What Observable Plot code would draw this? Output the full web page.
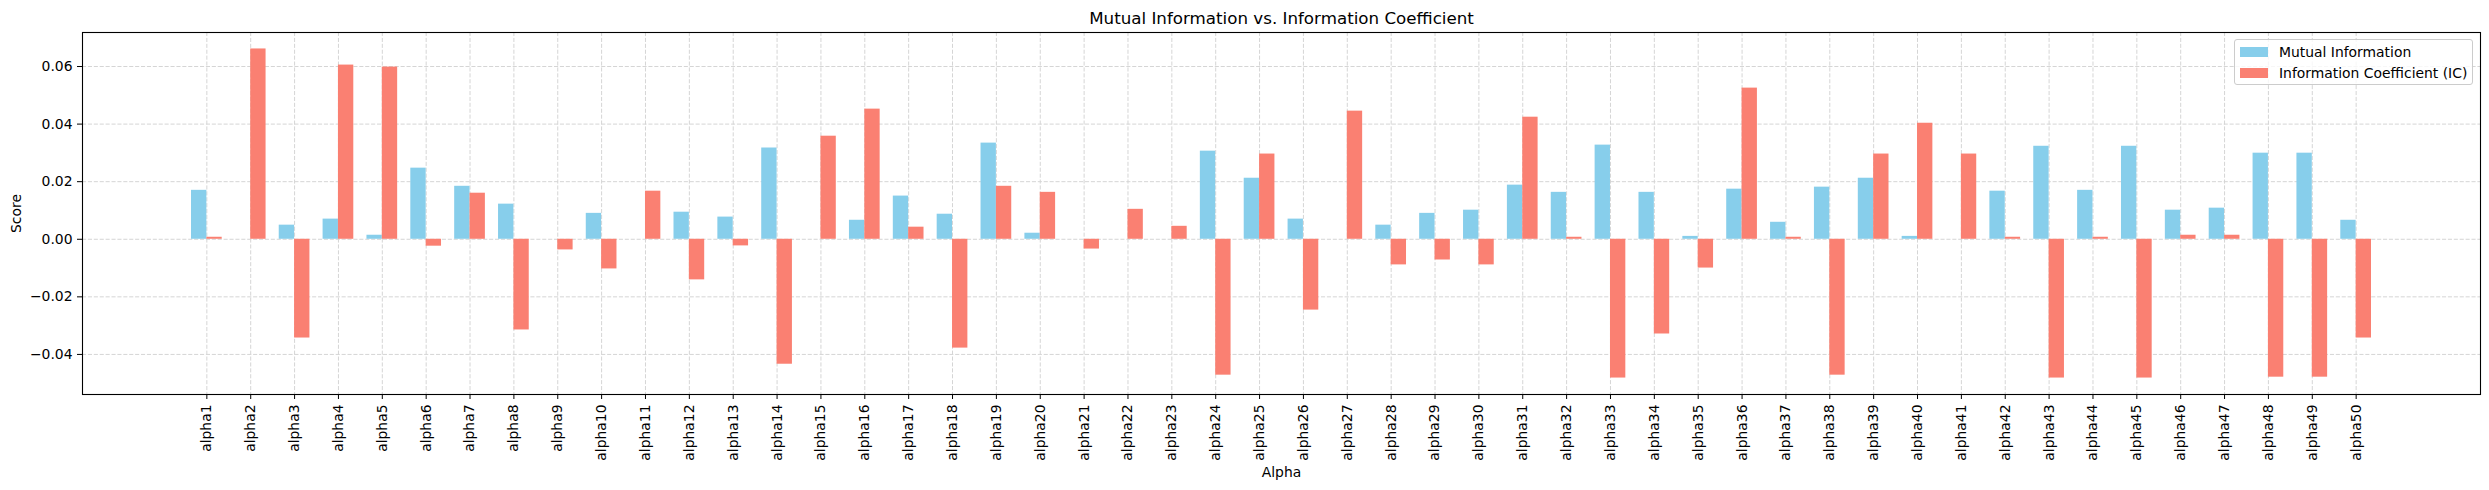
<!DOCTYPE html>
<html>
<head>
<meta charset="utf-8">
<script src="https://cdn.jsdelivr.net/npm/d3@7"></script>
<script src="https://cdn.jsdelivr.net/npm/@observablehq/plot@0.6"></script>
<style>
  body { margin: 0; background: #fff; font-family: "DejaVu Sans", sans-serif; }
  #wrap { position: relative; width: 2489px; height: 490px; overflow: hidden; background: #fff; }
  .legend { position: absolute; left: 2234px; top: 39px; width: 239px; height: 46px; box-sizing: border-box;
    border: 1px solid #cccccc; border-radius: 3px; background: rgba(255,255,255,0.8);
    font-family: "DejaVu Sans", sans-serif; font-size: 13.9px; color: #000; }
  .row { position: absolute; left: 5px; height: 16px; display: flex; align-items: center; white-space: nowrap; }
  .sw { width: 28px; height: 10px; margin-right: 11px; flex: none; }
</style>
</head>
<body>
<div id="wrap"></div>
<script>
// ---- data ----
const alphas = ["alpha1","alpha2","alpha3","alpha4","alpha5","alpha6","alpha7","alpha8","alpha9","alpha10",
  "alpha11","alpha12","alpha13","alpha14","alpha15","alpha16","alpha17","alpha18","alpha19","alpha20",
  "alpha21","alpha22","alpha23","alpha24","alpha25","alpha26","alpha27","alpha28","alpha29","alpha30",
  "alpha31","alpha32","alpha33","alpha34","alpha35","alpha36","alpha37","alpha38","alpha39","alpha40",
  "alpha41","alpha42","alpha43","alpha44","alpha45","alpha46","alpha47","alpha48","alpha49","alpha50"];

const mutualInfo = [0.0170, 0.0000, 0.0049, 0.0070, 0.0014, 0.0247, 0.0184, 0.0122, 0.0000, 0.0090,
  0.0000, 0.0094, 0.0077, 0.0317, 0.0000, 0.0066, 0.0150, 0.0087, 0.0334, 0.0021,
  0.0000, 0.0000, 0.0000, 0.0306, 0.0212, 0.0070, 0.0000, 0.0049, 0.0090, 0.0101,
  0.0188, 0.0163, 0.0327, 0.0163, 0.0010, 0.0174, 0.0059, 0.0181, 0.0212, 0.0010,
  0.0000, 0.0167, 0.0323, 0.0170, 0.0323, 0.0101, 0.0108, 0.0299, 0.0299, 0.0066];

const infoCoef = [0.0007, 0.0661, -0.0343, 0.0605, 0.0598, -0.0024, 0.0160, -0.0315, -0.0037, -0.0103,
  0.0167, -0.0141, -0.0023, -0.0434, 0.0358, 0.0452, 0.0042, -0.0378, 0.0184, 0.0163,
  -0.0034, 0.0104, 0.0045, -0.0472, 0.0296, -0.0246, 0.0445, -0.0089, -0.0072, -0.0089,
  0.0424, 0.0007, -0.0482, -0.0329, -0.0100, 0.0525, 0.0007, -0.0472, 0.0296, 0.0403,
  0.0296, 0.0007, -0.0482, 0.0007, -0.0482, 0.0014, 0.0014, -0.0479, -0.0479, -0.0343];

const yTicks = [-0.04, -0.02, 0.00, 0.02, 0.04, 0.06];
const seriesNames = ["Mutual Information", "Information Coefficient (IC)"];
const seriesColors = ["#87CEEB", "#FA8072"];

// ---- derived ----
const barWidth = 0.35;
const rows = alphas.map((name, i) => ({name, i, mi: mutualInfo[i], ic: infoCoef[i]}));
const xIdx = alphas.map((_, i) => i);
const xLo = -barWidth, xHi = alphas.length - 1 + barWidth;
const xPad = (xHi - xLo) * 0.05;
const allVals = mutualInfo.concat(infoCoef);
const yLo = d3.min(allVals), yHi = d3.max(allVals);
const yPad = (yHi - yLo) * 0.05;

const gridStyle = {stroke: "#d5d5d5", strokeOpacity: 1, strokeWidth: 1, strokeDasharray: "4.1,1.8"};

const chart = Plot.plot({
  width: 2489,
  height: 490,
  marginLeft: 82,
  marginRight: 9,
  marginTop: 32,
  marginBottom: 96,
  style: {fontFamily: "DejaVu Sans, sans-serif", fontSize: "13.9px", color: "#000", background: "#fff", overflow: "visible"},
  x: {type: "linear", domain: [xLo - xPad, xHi + xPad]},
  y: {domain: [yLo - yPad, yHi + yPad]},
  marks: [
    Plot.gridX(xIdx, gridStyle),
    Plot.gridY(yTicks, gridStyle),
    Plot.rectY(rows, {x1: d => d.i - barWidth, x2: d => d.i, y1: 0, y2: "mi", fill: seriesColors[0]}),
    Plot.rectY(rows, {x1: d => d.i, x2: d => d.i + barWidth, y1: 0, y2: "ic", fill: seriesColors[1]}),
    Plot.frame({stroke: "#000", strokeWidth: 1.1}),
    Plot.axisX(xIdx, {tickFormat: i => alphas[i], tickRotate: -90, tickSize: 5, tickPadding: 5, label: null, stroke: "#000", fontSize: 13.9}),
    Plot.axisY(yTicks, {tickFormat: d3.format(".2f"), tickSize: 5, tickPadding: 5, label: null, stroke: "#000", fontSize: 13.9}),
    Plot.text(["Mutual Information vs. Information Coefficient"], {text: d => d, frameAnchor: "top", dy: -14, fontSize: 16.7, lineAnchor: "middle", fill: "#000"}),
    Plot.text(["Score"], {text: d => d, frameAnchor: "left", dx: -66, rotate: -90, textAnchor: "middle", lineAnchor: "middle", fontSize: 13.9, fill: "#000"}),
    Plot.text(["Alpha"], {text: d => d, frameAnchor: "bottom", dy: 78, lineAnchor: "middle", fontSize: 13.9, fill: "#000"})
  ]
});

const wrap = document.getElementById("wrap");
wrap.appendChild(chart);

// legend (HTML overlay)
const legend = document.createElement("div");
legend.className = "legend";
seriesNames.forEach((name, k) => {
  const row = document.createElement("div");
  row.className = "row";
  row.style.top = (4 + k * 21) + "px";
  const sw = document.createElement("span");
  sw.className = "sw";
  sw.style.background = seriesColors[k];
  const tx = document.createElement("span");
  tx.textContent = name;
  row.appendChild(sw);
  row.appendChild(tx);
  legend.appendChild(row);
});
wrap.appendChild(legend);
</script>
</body>
</html>
